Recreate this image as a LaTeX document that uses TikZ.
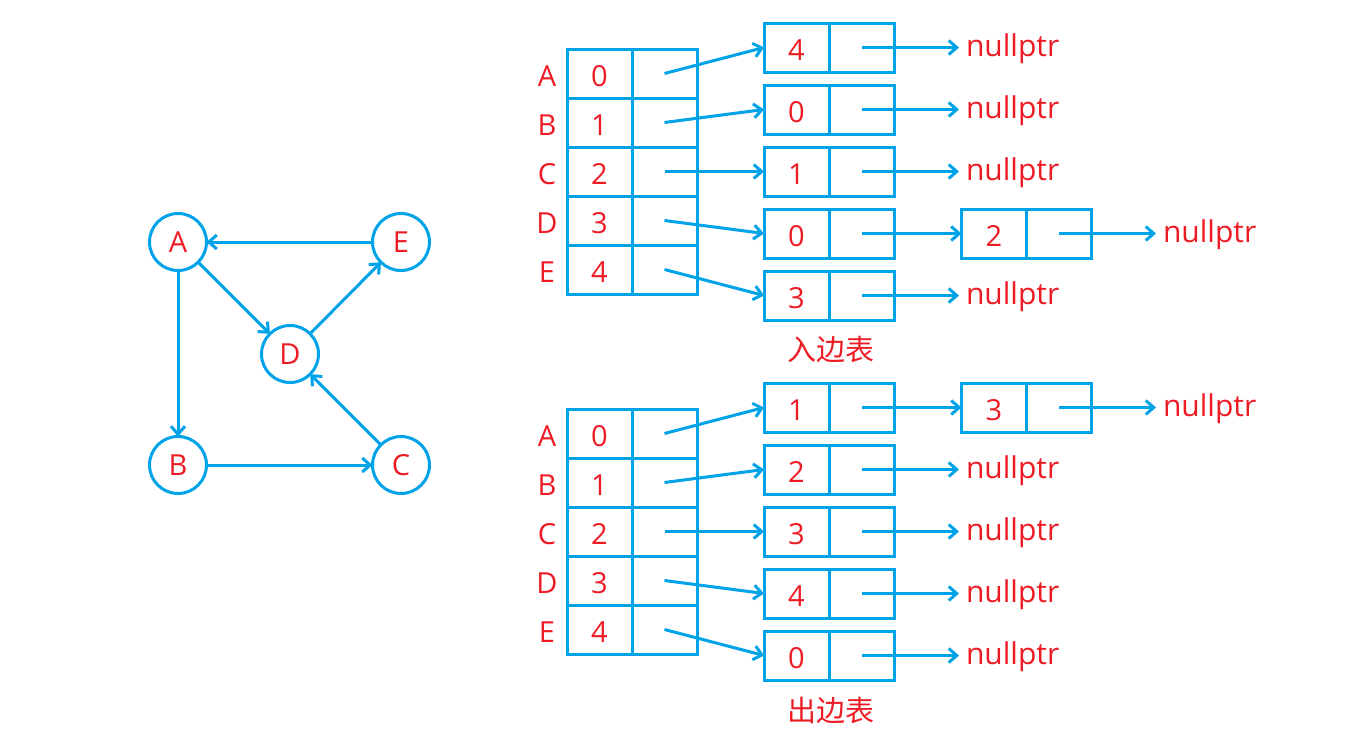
\documentclass[tikz,border=0pt]{standalone}
\usepackage{fontspec}
\setmainfont{Open Sans}
\newfontfamily\cjk{Noto Sans CJK SC}
\usetikzlibrary{arrows.meta}
\definecolor{eblue}{RGB}{0,162,232}
\definecolor{ered}{RGB}{237,28,36}
\begin{document}
\begin{tikzpicture}[x=1pt,y=-1pt,line width=3pt,
  txt/.style={text=ered,font=\fontsize{29}{29}\selectfont,inner sep=0pt},
  vnode/.style={circle,draw=eblue,minimum size=57pt,inner sep=0pt,outer sep=0pt,txt},
  cell/.style={draw=eblue,minimum width=65pt,minimum height=49pt,inner sep=0pt,outer sep=0pt,txt,text height=26pt,text depth=0pt},
  nul/.style={text=ered,font=\fontsize{30}{30}\selectfont,inner sep=0pt,anchor=base west,inner xsep=0pt,outer xsep=7pt},
  captxt/.style={text=ered,font=\cjk\fontsize{29}{29}\selectfont,inner sep=0pt},
  edge/.style={draw=eblue,-{Straight Barb[length=8pt,width=14pt]}}]
\useasboundingbox (0,0) rectangle (1367,734);
% graph
\node[vnode] (A) at (178,242) {A};
\node[vnode] (E) at (401,242) {E};
\node[vnode] (D) at (290,354) {D};
\node[vnode] (B) at (178,465) {B};
\node[vnode] (C) at (401,465) {C};
\draw[edge] (E) -- (A);
\draw[edge] (A) -- (D);
\draw[edge] (D) -- (E);
\draw[edge] (A) -- (B);
\draw[edge] (B) -- (C);
\draw[edge] (C) -- (D);
% in-edge table
\foreach \L/\v/\i in {A/0/1,B/1/2,C/2/3,D/3/4,E/4/5}{
  \pgfmathsetmacro\yy{73.5+49*(\i-1)}
  \node[cell] (iv\i) at (599.5,\yy) {\v};
  \node[cell] (ip\i) at (664.5,\yy) {};
  \node[txt] (il\i) at (547,\yy+2.5) {\L};
}
\foreach \v/\i in {4/1,0/2,1/3,0/4,3/5}{
  \pgfmathsetmacro\yy{47.5+62*(\i-1)}
  \node[cell] (av\i) at (796.5,\yy) {\v};
  \node[cell] (ap\i) at (861.5,\yy) {};
  \draw[edge] (ip\i.center) -- (av\i.west);
}
\foreach \i in {1,2,3,5}{
  \pgfmathsetmacro\yy{47.5+62*(\i-1)}
  \node[nul] (an\i) at (959,\yy+8.5) {nullptr};
  \draw[edge] (ap\i.center) -- (ap\i.center -| an\i.west);
}
\node[cell] (bv4) at (994,233.5) {2};
\node[cell] (bp4) at (1059,233.5) {};
\node[nul] (bn4) at (1156,242) {nullptr};
\draw[edge] (ap4.center) -- (bv4.west);
\draw[edge] (bp4.center) -- (bp4.center -| bn4.west);
\node[captxt] (incap) at (831,350) {入边表};
% out-edge table
\foreach \L/\v/\i in {A/0/1,B/1/2,C/2/3,D/3/4,E/4/5}{
  \pgfmathsetmacro\yy{433.5+49*(\i-1)}
  \node[cell] (ov\i) at (599.5,\yy) {\v};
  \node[cell] (op\i) at (664.5,\yy) {};
  \node[txt] (ol\i) at (547,\yy+2.5) {\L};
}
\foreach \v/\i in {1/1,2/2,3/3,4/4,0/5}{
  \pgfmathsetmacro\yy{407.5+62*(\i-1)}
  \node[cell] (cv\i) at (796.5,\yy) {\v};
  \node[cell] (cp\i) at (861.5,\yy) {};
  \draw[edge] (op\i.center) -- (cv\i.west);
}
\foreach \i in {2,3,4,5}{
  \pgfmathsetmacro\yy{407.5+62*(\i-1)}
  \node[nul] (cn\i) at (959,\yy+8.5) {nullptr};
  \draw[edge] (cp\i.center) -- (cp\i.center -| cn\i.west);
}
\node[cell] (dv1) at (994,407.5) {3};
\node[cell] (dp1) at (1059,407.5) {};
\node[nul] (dn1) at (1156,416) {nullptr};
\draw[edge] (cp1.center) -- (dv1.west);
\draw[edge] (dp1.center) -- (dp1.center -| dn1.west);
\node[captxt] (outcap) at (831,710) {出边表};
\end{tikzpicture}
\end{document}
